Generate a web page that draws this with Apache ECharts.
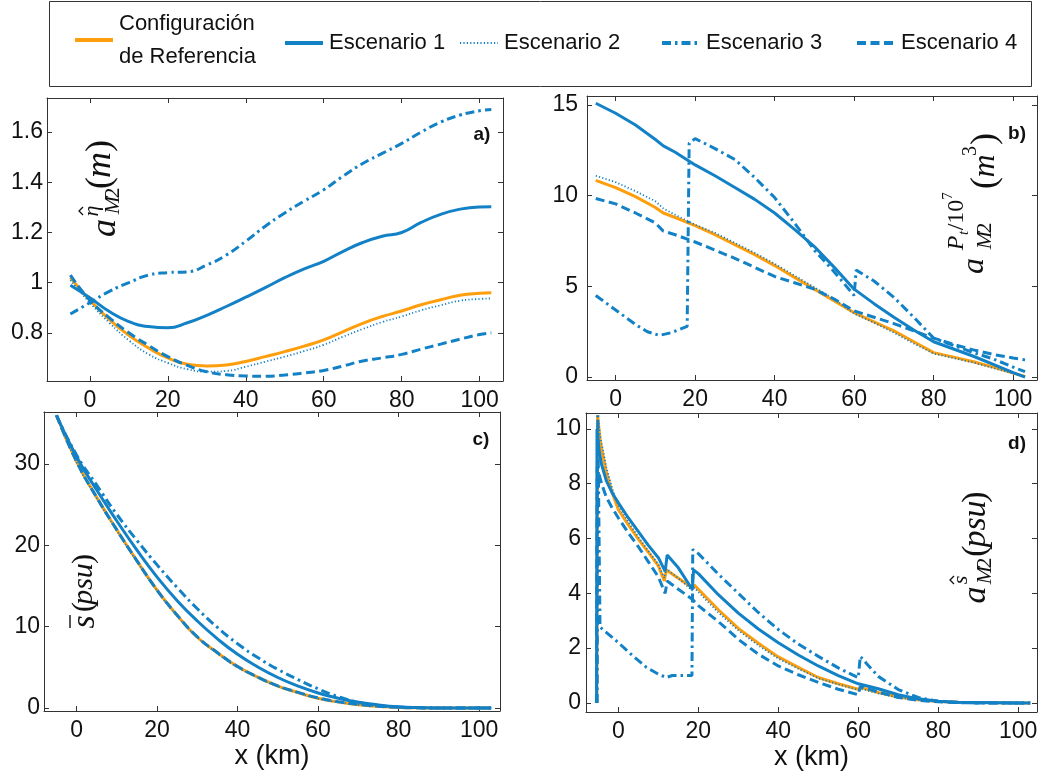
<!DOCTYPE html>
<html><head><meta charset="utf-8">
<script src="https://cdn.jsdelivr.net/npm/echarts@6/dist/echarts.min.js"></script>
<style>html,body{margin:0;padding:0;background:#fff}#chart{width:1047px;height:778px}</style>
</head><body><div id="chart"></div>
<script>
// ---------------- DATA ----------------
const seriesNames = ['Configuración de Referencia', 'Escenario 1', 'Escenario 2', 'Escenario 3', 'Escenario 4'];
const xTicks = [0, 20, 40, 60, 80, 100];
const aTicks = [0.8, 1, 1.2, 1.4, 1.6];
const bTicks = [0, 5, 10, 15];
const cTicks = [0, 10, 20, 30];
const dTicks = [0, 2, 4, 6, 8, 10];
const xTitle = 'x (km)';

// panel a)
const aX   = [-5, 0, 5, 10, 15, 20, 25, 30, 35, 40, 45, 50, 55, 60, 65, 70, 75, 80, 85, 90, 95, 100, 103];
const aRef = [1.02, 0.93, 0.853, 0.79, 0.74, 0.70, 0.675, 0.668, 0.672, 0.686, 0.705, 0.725, 0.747, 0.772, 0.805, 0.838, 0.865, 0.887, 0.912, 0.932, 0.95, 0.958, 0.96];
const aS1  = [0.99, 0.94, 0.885, 0.845, 0.825, 0.82, 0.84, 0.87, 0.905, 0.942, 0.98, 1.02, 1.055, 1.085, 1.125, 1.16, 1.185, 1.2, 1.24, 1.272, 1.293, 1.302, 1.303];
const aS2  = [1.01, 0.92, 0.84, 0.77, 0.715, 0.68, 0.655, 0.645, 0.648, 0.665, 0.685, 0.705, 0.727, 0.752, 0.785, 0.815, 0.843, 0.865, 0.89, 0.91, 0.928, 0.935, 0.937];
const aS3  = [0.875, 0.92, 0.965, 1.0, 1.03, 1.04, 1.043, 1.07, 1.11, 1.165, 1.225, 1.278, 1.325, 1.37, 1.425, 1.475, 1.515, 1.555, 1.6, 1.64, 1.668, 1.685, 1.69];
const aS4  = [1.03, 0.93, 0.86, 0.8, 0.75, 0.705, 0.67, 0.645, 0.633, 0.628, 0.627, 0.632, 0.64, 0.65, 0.668, 0.688, 0.7, 0.714, 0.735, 0.755, 0.775, 0.793, 0.8];

// panel b)
const bX   = [-5, 0, 5, 10, 12, 15, 20, 25, 30, 35, 40, 45, 50, 55, 60, 65, 70, 75, 80, 85, 90, 95, 100, 103];
const bRef = [10.85, 10.45, 9.95, 9.35, 9.05, 8.8, 8.35, 7.85, 7.3, 6.75, 6.15, 5.5, 4.85, 4.2, 3.55, 3.05, 2.55, 1.95, 1.35, 1.1, 0.85, 0.55, 0.22, 0.03];
const bS1  = [15.1, 14.55, 13.9, 13.1, 12.75, 12.4, 11.7, 11.1, 10.45, 9.8, 9.05, 8.15, 7.2, 6.05, 4.85, 4.05, 3.3, 2.6, 1.95, 1.55, 1.15, 0.7, 0.25, 0.0];
const bS2  = [11.1, 10.75, 10.25, 9.7, 9.3, 8.95, 8.4, 7.95, 7.4, 6.85, 6.25, 5.6, 4.95, 4.3, 3.5, 3.0, 2.45, 1.85, 1.3, 1.05, 0.8, 0.5, 0.2, 0.02];
const bS4  = [9.85, 9.55, 9.05, 8.5, 8.05, 7.85, 7.45, 7.0, 6.55, 6.05, 5.55, 5.2, 4.85, 4.3, 3.65, 3.3, 2.95, 2.55, 2.15, 1.8, 1.5, 1.25, 1.05, 0.95];
const bX3  = [-5, 0, 5, 8, 11, 14, 18, 18.5, 20, 25, 30, 35, 40, 45, 50, 55, 60, 60.5, 65, 70, 75, 80, 85, 90, 95, 100, 103];
const bS3  = [4.5, 3.7, 2.9, 2.5, 2.3, 2.45, 2.8, 12.9, 13.15, 12.6, 12.0, 11.0, 9.9, 8.5, 7.0, 5.8, 4.5, 5.9, 5.3, 4.4, 3.3, 2.15, 1.75, 1.35, 1.0, 0.55, 0.3];

// panel c)
const cX   = [-5, 0, 5, 10, 15, 20, 25, 30, 35, 40, 45, 50, 55, 60, 65, 70, 75, 80, 85, 90, 95, 100, 103];
const cRef = [36.0, 30.3, 25.9, 21.9, 18.1, 14.5, 11.4, 8.7, 6.8, 5.1, 3.8, 2.7, 1.9, 1.2, 0.75, 0.4, 0.2, 0.07, 0.02, 0, 0, 0, 0];
const cS1  = [36.0, 30.9, 26.8, 23.0, 19.4, 16.1, 13.2, 10.7, 8.5, 6.6, 5.05, 3.75, 2.7, 1.85, 1.2, 0.72, 0.38, 0.15, 0.05, 0.01, 0, 0, 0];
const cS2  = [36.0, 30.2, 25.8, 21.8, 18.0, 14.4, 11.3, 8.7, 6.7, 5.0, 3.75, 2.65, 1.85, 1.15, 0.7, 0.38, 0.18, 0.06, 0.02, 0, 0, 0, 0];
const cS3  = [36.0, 31.1, 27.4, 23.8, 20.6, 17.6, 14.8, 12.2, 9.9, 7.9, 6.2, 4.75, 3.5, 2.35, 1.4, 0.7, 0.3, 0.12, 0.03, 0, 0, 0, 0];
const cS4  = [36.0, 30.3, 25.9, 21.9, 18.1, 14.5, 11.4, 8.75, 6.8, 5.1, 3.8, 2.72, 1.92, 1.25, 0.78, 0.45, 0.22, 0.08, 0.02, 0, 0, 0, 0];

// panel d)
const dXRef = [-5.4, -5.2, -4.5, -3, -1.5, 0, 2.5, 5, 7.5, 10, 11.5, 12, 15, 18.5, 19, 20, 25, 30, 35, 40, 45, 50, 55, 60, 61, 65, 70, 75, 80, 85, 90, 95, 100, 103];
const dRef  = [0, 10.5, 9.5, 8.4, 7.65, 7.05, 6.5, 5.98, 5.5, 5.0, 4.45, 4.85, 4.55, 4.2, 4.3, 4.15, 3.4, 2.72, 2.18, 1.68, 1.3, 0.93, 0.7, 0.5, 0.55, 0.38, 0.22, 0.12, 0.05, 0.03, 0.02, 0.01, 0, 0];
const dS2   = [0, 10.5, 9.7, 8.6, 7.8, 7.2, 6.6, 6.05, 5.55, 5.05, 4.55, 4.9, 4.55, 4.1, 4.2, 4.05, 3.3, 2.65, 2.1, 1.62, 1.25, 0.9, 0.68, 0.47, 0.5, 0.35, 0.2, 0.1, 0.04, 0.02, 0.01, 0, 0, 0];
const dX1   = [-5.45, -5.35, -4.8, -4.2, -3, -1.5, 0, 2.5, 5, 7.5, 10, 11.7, 12.2, 15, 18.5, 18.8, 20, 25, 30, 35, 40, 45, 50, 55, 60, 60.5, 65, 70, 75, 80, 85, 90, 95, 100, 103];
const dS1   = [0, 10.0, 9.2, 8.7, 8.1, 7.65, 7.3, 6.75, 6.25, 5.75, 5.3, 4.8, 5.4, 4.93, 4.14, 4.85, 4.72, 3.95, 3.28, 2.7, 2.2, 1.75, 1.35, 1.0, 0.7, 0.75, 0.52, 0.3, 0.15, 0.06, 0.03, 0.02, 0.01, 0, 0];
const dX3   = [-5.3, -5.15, -4.6, -2, 0, 3, 7, 10, 12, 13.5, 18.4, 18.6, 20, 25, 30, 35, 40, 45, 50, 55, 60, 60.5, 62, 65, 70, 75, 80, 85, 90, 100, 103];
const dS3   = [0, 10.5, 2.77, 2.45, 2.2, 1.8, 1.3, 1.05, 0.93, 1.0, 1.0, 5.6, 5.45, 4.7, 4.0, 3.3, 2.68, 2.15, 1.7, 1.28, 0.92, 1.7, 1.45, 0.97, 0.49, 0.2, 0.06, 0.02, 0, 0, 0];
const dX4   = [-5.5, -5.3, -4.2, -3, -1.5, 0, 2.5, 5, 7.5, 10, 11.7, 12.2, 15, 18.5, 20, 25, 30, 35, 40, 45, 50, 55, 60, 60.5, 65, 70, 75, 80, 85, 90, 100, 103];
const dS4   = [0, 8.6, 8.0, 7.5, 7.1, 6.75, 6.2, 5.7, 5.15, 4.6, 4.0, 4.45, 4.15, 3.78, 3.55, 2.97, 2.32, 1.78, 1.35, 1.03, 0.75, 0.5, 0.3, 0.6, 0.4, 0.2, 0.1, 0.04, 0.01, 0, 0, 0];

// ---------------- STYLE / LAYOUT ----------------
const ORANGE = '#FF9E0D';
const BLUE = '#1281C6';
const AXC = '#333333';
const FONT = '"Liberation Sans", Arial, sans-serif';
const SERIF = '"Liberation Serif", "DejaVu Serif", serif';

const lineStyles = [
  { color: ORANGE, width: 3, type: 'solid' },
  { color: BLUE, width: 3, type: 'solid' },
  { color: BLUE, width: 1.8, type: [1.2, 2.2] },
  { color: BLUE, width: 3, type: [9, 4, 2.5, 4] },
  { color: BLUE, width: 3, type: [9, 4.5] }
];
const legendLineWidths = [4, 4, 2, 4, 4];

const pts = (xs, ys) => xs.map((x, i) => [x, ys[i]]);

const panels = [
  { grid: { left: 47, top: 98, width: 456, height: 283 }, x: [-11, 106], y: [0.608, 1.736], yt: aTicks, ym: 4, smooth: 0.5,
    data: [pts(aX, aRef), pts(aX, aS1), pts(aX, aS2), pts(aX, aS3), pts(aX, aS4)], title: false },
  { grid: { left: 587, top: 96, width: 450, height: 284 }, x: [-7.2, 106], y: [-0.16, 15.5], yt: bTicks, ym: 9, smooth: false,
    data: [pts(bX, bRef), pts(bX, bS1), pts(bX, bS2), pts(bX3, bS3), pts(bX, bS4)], title: false },
  { grid: { left: 44, top: 412, width: 456, height: 299 }, x: [-8.1, 105.2], y: [-0.37, 36.4], yt: cTicks, ym: 4, smooth: 0.5,
    data: [pts(cX, cRef), pts(cX, cS1), pts(cX, cS2), pts(cX, cS3), pts(cX, cS4)], title: true },
  { grid: { left: 586, top: 413, width: 451, height: 299 }, x: [-8.1, 104.7], y: [-0.33, 10.58], yt: dTicks, ym: 5, smooth: false,
    data: [pts(dXRef, dRef), pts(dX1, dS1), pts(dXRef, dS2), pts(dX3, dS3), pts(dX4, dS4)], title: true }
];

const grids = [], xAxes = [], yAxes = [], series = [];
panels.forEach((p, gi) => {
  grids.push(Object.assign({ containLabel: false, show: false }, p.grid));
  const tick = { inside: true, length: 5, lineStyle: { color: AXC } };
  const line = { show: true, onZero: false, lineStyle: { color: AXC, width: 1 } };
  xAxes.push({
    type: 'value', gridIndex: gi, min: p.x[0], max: p.x[1], position: 'bottom',
    axisLine: line, axisTick: Object.assign({ customValues: xTicks }, tick),
    axisLabel: { customValues: xTicks, fontSize: 23, color: '#111', fontFamily: FONT, margin: 8 },
    splitLine: { show: false },
    name: p.title ? xTitle : '', nameLocation: 'middle', nameGap: 32,
    nameTextStyle: { fontSize: 27, color: '#111', fontFamily: FONT }
  });
  xAxes.push({
    type: 'value', gridIndex: gi, min: p.x[0], max: p.x[1], position: 'top',
    axisLine: line, axisTick: Object.assign({ customValues: xTicks }, tick),
    axisLabel: { show: false }, splitLine: { show: false }
  });
  yAxes.push({
    type: 'value', gridIndex: gi, min: p.y[0], max: p.y[1], position: 'left',
    axisLine: line, axisTick: Object.assign({ customValues: p.yt }, tick),
    axisLabel: { customValues: p.yt, fontSize: 23, color: '#111', fontFamily: FONT, margin: p.ym },
    splitLine: { show: false }
  });
  yAxes.push({
    type: 'value', gridIndex: gi, min: p.y[0], max: p.y[1], position: 'right',
    axisLine: line, axisTick: Object.assign({ customValues: p.yt }, tick),
    axisLabel: { show: false }, splitLine: { show: false }
  });
  p.data.forEach((d, si) => {
    series.push({
      type: 'line', name: seriesNames[si], xAxisIndex: gi * 2, yAxisIndex: gi * 2,
      data: d, symbol: 'none', smooth: p.smooth,
      lineStyle: lineStyles[si], itemStyle: { color: lineStyles[si].color },
      emphasis: { disabled: true }, z: 2 + si, clip: true
    });
  });
});

const legendLefts = [73, 283, 459, 660, 855];
const legends = seriesNames.map((n, i) => ({
  data: [n], left: legendLefts[i], top: i === 0 ? 7 : 30, padding: 0,
  itemWidth: 38, itemHeight: 14, itemGap: 0, selectedMode: false,
  itemStyle: { opacity: 0 },
  lineStyle: { width: legendLineWidths[i] },
  formatter: nm => nm === seriesNames[0] ? 'Configuración\nde Referencia' : nm,
  textStyle: { fontSize: 22, fontFamily: FONT, color: '#111', lineHeight: i === 0 ? 33 : 26, padding: [0, 0, 0, 1] }
}));

// --- math-style axis labels (rotated, built from text pieces) ---
const T = (txt, x, y, size, italic, extra) => Object.assign({
  type: 'text', x, y, silent: true,
  style: { text: txt, fontSize: size, fontFamily: SERIF, fontStyle: italic ? 'italic' : 'normal', fill: '#111',
           align: 'center', verticalAlign: 'middle', textAlign: 'center', textVerticalAlign: 'middle' }
}, extra || {});
const hat = (cx, cy) => ({ type: 'polyline', silent: true, shape: { points: [[cx - 4, cy + 3], [cx, cy - 1], [cx + 4, cy + 3]] },
  style: { stroke: '#111', lineWidth: 1.3, fill: null } });
const rot = Math.PI / 2;

const mathLabels = [
  { type: 'group', x: 101, y: 238, rotation: rot, children: [
    T('a', 10, 5, 36, true),
    T('η', 27, -9, 22, true), hat(27, -21),
    T('M', 33, 12, 22, true), T('2', 45, 12, 22, false),
    T('(', 55, 0, 36, false), T('m', 73, 0, 36, true), T(')', 92, 0, 36, false)
  ]},
  { type: 'group', x: 978, y: 278, rotation: rot, children: [
    T('a', 12, -3, 32, true),
    T('M', 38, 7, 22, true), T('2', 50, 7, 22, false),
    T('P', 35, -21, 24, true), T('t', 45, -14, 15, true), T('/10', 63, -21, 24, false), T('7', 82, -30, 15, false),
    T('(', 95, 8, 36, false), T('m', 112, 8, 32, true), T('3', 127, -7, 20, false), T(')', 139, 8, 36, false)
  ]},
  { type: 'group', x: 85, y: 631, rotation: rot, children: [
    T('s', 9, 0, 34, true),
    { type: 'line', silent: true, shape: { x1: 3, y1: -15, x2: 16, y2: -15 }, style: { stroke: '#111', lineWidth: 1.4 } },
    T('(', 24, -1, 30, false), T('psu', 47, -1, 30, true), T(')', 72, -1, 30, false)
  ]},
  { type: 'group', x: 976, y: 604, rotation: rot, children: [
    T('a', 9, 0, 34, true),
    T('s', 24, -15, 22, true), hat(24, -25),
    T('M', 29, 9, 22, true), T('2', 41, 9, 22, false),
    T('(', 53, 0, 34, false), T('psu', 80, 0, 34, true), T(')', 107, 0, 34, false)
  ]}
];

const panelTags = [['a)', 482, 135], ['b)', 1017, 134], ['c)', 481, 440], ['d)', 1017, 444]].map(t => ({
  type: 'text', x: t[1], y: t[2], silent: true,
  style: { text: t[0], fontSize: 19, fontWeight: 'bold', fontFamily: FONT, fill: '#111',
           align: 'center', verticalAlign: 'middle', textAlign: 'center', textVerticalAlign: 'middle' }
}));

const legendBox = { type: 'rect', silent: true, shape: { x: 49.5, y: 1.5, width: 982, height: 85 },
  style: { fill: null, stroke: '#333', lineWidth: 1 }, z: -1 };

const chart = echarts.init(document.getElementById('chart'), null, { renderer: 'canvas' });
chart.setOption({
  animation: false,
  backgroundColor: '#fff',
  legend: legends,
  grid: grids,
  xAxis: xAxes,
  yAxis: yAxes,
  series: series,
  graphic: [legendBox].concat(mathLabels, panelTags)
});
</script></body></html>
